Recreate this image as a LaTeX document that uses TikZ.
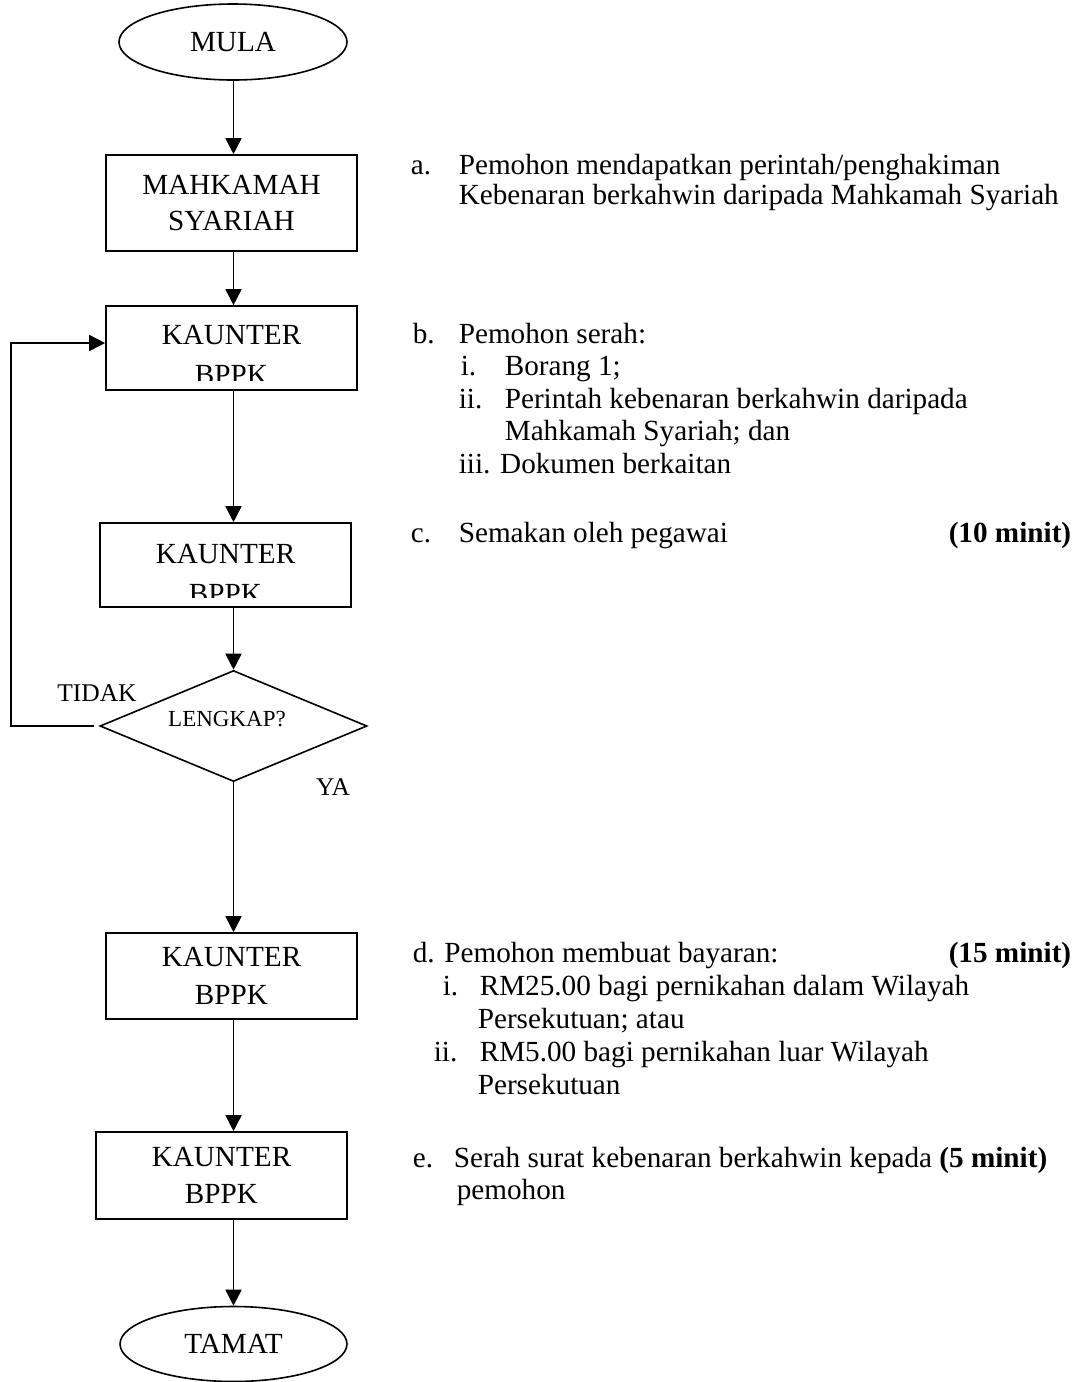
\documentclass[tikz,border=0pt]{standalone}
\usepackage{fontspec}
\setmainfont{Liberation Serif}
\usetikzlibrary{shapes.geometric,arrows.meta}

\begin{document}
\begin{tikzpicture}[x=0.5pt, y=-0.5pt, line width=0.8pt,
	font=\fontsize{14.6}{15}\selectfont,
	terminal/.style={ellipse, draw, inner sep=0pt, minimum width=114pt, minimum height=38pt},
	stepbox/.style={rectangle, draw, align=center, minimum width=125.5pt},
	boxtext/.style={inner sep=0pt, align=center},
	decision/.style={diamond, draw, inner sep=0pt, minimum width=133.5pt, minimum height=55.5pt},
	flow/.style={-{Triangle[length=8pt,width=8pt]}},
	note/.style={anchor=base west, inner sep=0pt},
	timing/.style={anchor=base east, inner sep=0pt, font=\fontsize{14.6}{15}\selectfont\bfseries},
	branch/.style={inner sep=0pt, font=\fontsize{12.75}{15}\selectfont}]

\useasboundingbox (0,0) rectangle (1077,1382);

% flow chart
\node[terminal] (mula) at (233,42) {MULA};
\node[stepbox, minimum height=48pt, font=\fontsize{14.6}{18}\selectfont] (mahkamah) at (231.5,203) {MAHKAMAH\\SYARIAH};
\node[stepbox, minimum height=42pt] (k1) at (231.5,348) {};
\node[stepbox, minimum height=42pt] (k2) at (225.5,565) {};
\node[decision] (dia) at (233.5,726) {};
\node[inner sep=0pt, font=\fontsize{11.5}{13}\selectfont] (lengkap) at (227,719) {LENGKAP?};
\node[stepbox, minimum height=43pt, font=\fontsize{14.6}{18.75}\selectfont] (k3) at (231.5,976) {KAUNTER\\BPPK};
\node[stepbox, minimum height=43.5pt, font=\fontsize{14.6}{18.5}\selectfont] (k4) at (221.5,1175.5) {KAUNTER\\BPPK};
\node[terminal, minimum width=113.5pt, minimum height=37.5pt] (tamat) at (233.5,1344) {TAMAT};

% text cut off by the box
\begin{scope}
	\clip (k1.north west) rectangle ([yshift=5pt]k1.south east);
	\node[boxtext, font=\fontsize{14.6}{20}\selectfont] (k1t) at (231.5,355) {KAUNTER\\BPPK};
\end{scope}
\begin{scope}
	\clip (k2.north west) rectangle ([yshift=5pt]k2.south east);
	\node[boxtext, font=\fontsize{14.6}{20}\selectfont] (k2t) at (225.5,574) {KAUNTER\\BPPK};
\end{scope}

\node[branch] (tidak) at (97,693) {TIDAK};
\node[branch] (ya) at (333,787) {YA};

\draw[flow] (mula.south -| dia.north) -- (mahkamah.north -| dia.north);
\draw[flow] (mahkamah.south -| dia.north) -- (k1.north -| dia.north);
\draw[flow] (k1.south -| dia.north) -- (k2.north -| dia.north);
\draw[flow] (k2.south -| dia.north) -- (dia.north);
\draw[flow] (dia.south) -- (k3.north -| dia.north);
\draw[flow] (k3.south -| dia.north) -- (k4.north -| dia.north);
\draw[flow] (k4.south -| dia.north) -- (tamat.north -| dia.north);
\draw[flow] ([xshift=-2.5pt]dia.west) -- ++(-83,0) |- ([yshift=2.5pt]k1.west);

% notes
\node[note] (la) at (410,174) {a.};
\node[note] (ta1) at (458,174) {Pemohon mendapatkan perintah/penghakiman};
\node[note] (ta2) at (458,204) {Kebenaran berkahwin daripada Mahkamah Syariah};

\node[note] (lb) at (412,343) {b.};
\node[note] (tb) at (458,343) {Pemohon serah:};
\node[note] (lb1) at (460,375) {i.};
\node[note] (tb1) at (504,375) {Borang 1;};
\node[note] (lb2) at (458,408) {ii.};
\node[note] (tb2) at (504,408) {Perintah kebenaran berkahwin daripada};
\node[note] (tb2b) at (504,440) {Mahkamah Syariah; dan};
\node[note] (tb3) at (458,473) {iii. Dokumen berkaitan};

\node[note] (lc) at (410,542) {c.};
\node[note] (tc) at (458,542) {Semakan oleh pegawai};
\node[timing] (mc) at (1072,542) {(10 minit)};

\node[note] (td) at (412,962) {d. Pemohon membuat bayaran:};
\node[timing] (md) at (1072,962) {(15 minit)};
\node[note] (ld1) at (442,995) {i.};
\node[note] (td1) at (479,995) {RM25.00 bagi pernikahan dalam Wilayah};
\node[note] (td1b) at (477,1028) {Persekutuan; atau};
\node[note] (ld2) at (433,1061) {ii.};
\node[note] (td2) at (479,1061) {RM5.00 bagi pernikahan luar Wilayah};
\node[note] (td2b) at (477,1094) {Persekutuan};

\node[note] (le) at (412,1167) {e.};
\node[note] (te) at (453,1167) {Serah surat kebenaran berkahwin kepada \textbf{(5 minit)}};
\node[note] (te2) at (456,1199) {pemohon};

\end{tikzpicture}
\end{document}
